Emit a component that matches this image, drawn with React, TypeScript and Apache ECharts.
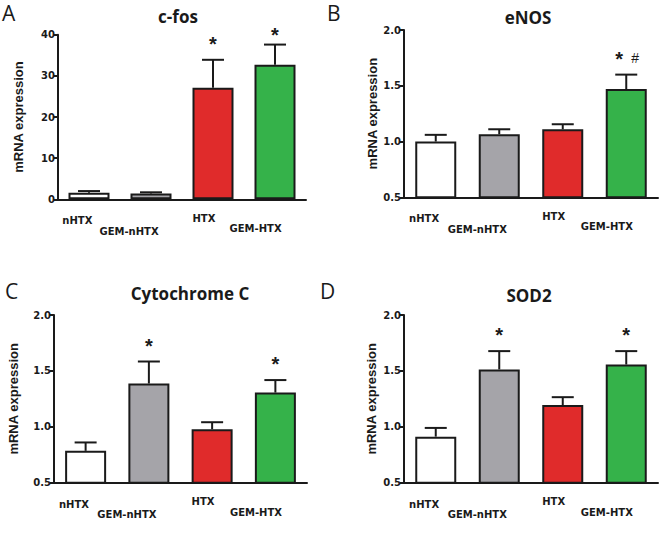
import React, { useEffect, useRef } from "react";
import * as echarts from "echarts";

const categories = ["nHTX", "GEM-nHTX", "HTX", "GEM-HTX"];
const barColors = ["#ffffff", "#a5a4a9", "#e02b2b", "#35b24a"];

const cfosMean = [1.6, 1.4, 27.1, 32.7];
const cfosErr = [0.4, 0.3, 6.8, 4.9];
const cfosMarks = ["", "", "*", "*"];

const enosMean = [1.0, 1.065, 1.11, 1.47];
const enosErr = [0.06, 0.045, 0.045, 0.13];
const enosMarks = ["", "", "", "* #"];

const cytcMean = [0.785, 1.387, 0.978, 1.306];
const cytcErr = [0.075, 0.197, 0.063, 0.112];
const cytcMarks = ["", "*", "", "*"];

const sod2Mean = [0.912, 1.513, 1.194, 1.557];
const sod2Err = [0.078, 0.164, 0.071, 0.12];
const sod2Marks = ["", "*", "", "*"];

const cfosTicks = [0, 40, 10];
const ratioTicks = [0.5, 2.0, 0.5];

const panels = [
  { letter: "A", title: "c-fos", mean: cfosMean, err: cfosErr, marks: cfosMarks, ticks: cfosTicks, digits: 0 },
  { letter: "B", title: "eNOS", mean: enosMean, err: enosErr, marks: enosMarks, ticks: ratioTicks, digits: 1 },
  { letter: "C", title: "Cytochrome C", mean: cytcMean, err: cytcErr, marks: cytcMarks, ticks: ratioTicks, digits: 1 },
  { letter: "D", title: "SOD2", mean: sod2Mean, err: sod2Err, marks: sod2Marks, ticks: ratioTicks, digits: 1 },
];

// layout
const grids = [
  { left: 58, top: 34.7, width: 248, height: 164.6 },
  { left: 404, top: 30, width: 254, height: 167.3 },
  { left: 54, top: 315, width: 253, height: 167.7 },
  { left: 404, top: 315, width: 254, height: 167.7 },
];
const nameGaps = [33, 25, 34, 26];
const titlePos = [
  { x: 173, y: 3 },
  { x: 523, y: 4 },
  { x: 185, y: 280 },
  { x: 524, y: 282 },
];
const letterPos = [
  { x: 2, y: 2 },
  { x: 327, y: 2 },
  { x: 5, y: 280 },
  { x: 320, y: 280 },
];

const AXIS_FONT = "'Liberation Sans', Arial, sans-serif";
const TICK_FONT = "'DejaVu Sans', 'Liberation Sans', sans-serif";
const TITLE_FONT = "'Open Sans', 'Noto Sans', sans-serif";
const INK = "#1a1a1a";

function measure(text: string): number {
  const ctx = document.createElement("canvas").getContext("2d");
  if (!ctx) return text.length * 7;
  ctx.font = `bold 10px ${TICK_FONT}`;
  return ctx.measureText(text).width;
}

export default function App() {
  const ref = useRef<HTMLDivElement>(null);
  useEffect(() => {
    document.body.style.margin = "0";
    const chart = echarts.init(ref.current!, null, { renderer: "svg" });
    const labelWidths = categories.map(measure);
    const grid: any[] = [];
    const xAxis: any[] = [];
    const yAxis: any[] = [];
    const series: any[] = [];
    const title: any[] = [];
    panels.forEach((p, k) => {
      grid.push({ ...grids[k], containLabel: false });
      xAxis.push({
        type: "category",
        gridIndex: k,
        data: categories,
        axisLine: { lineStyle: { color: INK, width: 2 } },
        axisTick: { show: false },
        axisLabel: { show: false },
      });
      yAxis.push({
        type: "value",
        gridIndex: k,
        min: p.ticks[0],
        max: p.ticks[1],
        interval: p.ticks[2],
        name: "mRNA expression",
        nameLocation: "middle",
        nameGap: nameGaps[k],
        nameTextStyle: { fontFamily: AXIS_FONT, fontWeight: "bold", fontSize: 13, color: INK },
        axisLine: { show: true, lineStyle: { color: INK, width: 2 } },
        axisTick: { show: true, length: 4, lineStyle: { color: INK, width: 2 } },
        splitLine: { show: false },
        axisLabel: {
          margin: 3,
          color: INK,
          fontFamily: TICK_FONT,
          fontWeight: "bold",
          fontSize: 10,
          formatter: (v: number) => v.toFixed(p.digits),
        },
      });
      series.push({
        type: "bar",
        xAxisIndex: k,
        yAxisIndex: k,
        barWidth: 41,
        data: p.mean.map((v, i) => ({
          value: v,
          itemStyle: { color: barColors[i], borderColor: INK, borderWidth: 2 },
        })),
      });
      // error bars and significance marks
      series.push({
        type: "custom",
        xAxisIndex: k,
        yAxisIndex: k,
        z: 3,
        data: p.mean.map((v, i) => [i, v, p.err[i]]),
        renderItem: (params: any, api: any) => {
          const idx = api.value(0);
          const m = api.value(1);
          const e = api.value(2);
          const base = api.coord([idx, m]);
          const top = api.coord([idx, m + e]);
          const plotTop = api.coord([idx, p.ticks[1]])[1];
          const x = base[0];
          const ls = { stroke: INK, lineWidth: 2 };
          const children: any[] = [
            { type: "line", shape: { x1: x, y1: base[1], x2: x, y2: top[1] }, style: ls },
            { type: "line", shape: { x1: x - 11, y1: top[1], x2: x + 11, y2: top[1] }, style: ls },
          ];
          const mark = p.marks[params.dataIndex];
          if (mark) {
            const my = Math.max(top[1] - 16, plotTop);
            const parts = mark.split(" ");
            parts.forEach((s: string, j: number) => {
              const off = parts.length > 1 ? (j === 0 ? -7 : 9) : 0;
              const isStar = s === "*";
              children.push({
                type: "text",
                style: {
                  text: s,
                  x: x + off,
                  y: isStar ? my : my - 1,
                  align: "center",
                  verticalAlign: "middle",
                  fontFamily: AXIS_FONT,
                  fontWeight: isStar ? "bold" : "normal",
                  fontSize: isStar ? 20 : 14,
                  fill: INK,
                },
              });
            });
          }
          return { type: "group", children };
        },
      });
      // category labels, set where the 45-degree labels of the reference sit
      series.push({
        type: "custom",
        xAxisIndex: k,
        yAxisIndex: k,
        z: 4,
        silent: true,
        data: categories.map((c, i) => [i]),
        renderItem: (params: any, api: any) => {
          const i = api.value(0);
          const pt = api.coord([i, p.ticks[0]]);
          const half = labelWidths[i] * 0.354;
          return {
            type: "text",
            style: {
              text: categories[i],
              x: pt[0] - 1 - half,
              y: pt[1] + 11 + half,
              align: "center",
              verticalAlign: "middle",
              fontFamily: TICK_FONT,
              fontWeight: "bold",
              fontSize: 10,
              fill: INK,
            },
          };
        },
      });
      title.push({
        text: p.title,
        left: titlePos[k].x,
        top: titlePos[k].y,
        textAlign: "center",
        textStyle: { fontFamily: TITLE_FONT, fontWeight: "bold", fontSize: 17, color: INK },
      });
      title.push({
        text: p.letter,
        left: letterPos[k].x,
        top: letterPos[k].y,
        padding: 0,
        textStyle: { fontFamily: TITLE_FONT, fontWeight: "normal", fontSize: 21, color: INK },
      });
    });
    chart.setOption({
      animation: false,
      backgroundColor: "#ffffff",
      title,
      grid,
      xAxis,
      yAxis,
      series,
    });
    return () => chart.dispose();
  }, []);
  return <div ref={ref} style={{ position: "absolute", left: 0, top: 0, width: 660, height: 544 }} />;
}
